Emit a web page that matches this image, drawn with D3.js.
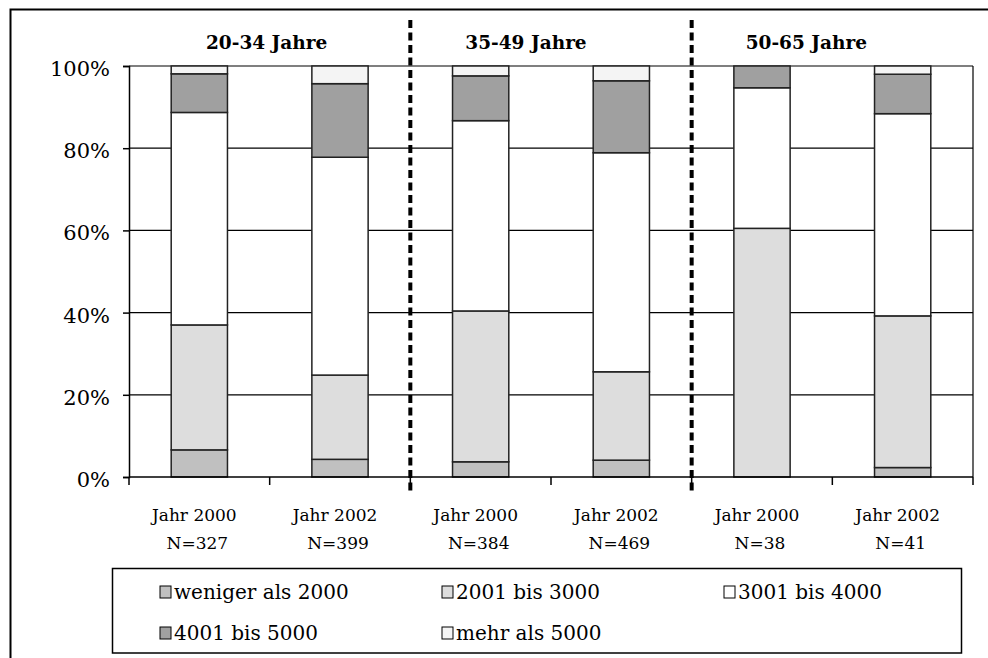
<!DOCTYPE html>
<html>
<head>
<meta charset="utf-8">
<script src="https://cdn.jsdelivr.net/npm/d3@7"></script>
<style>
  html, body { margin: 0; padding: 0; background: #fff; }
  svg { display: block; }
  text { font-family: "DejaVu Serif", "Liberation Serif", serif; fill: #000; }
</style>
</head>
<body>
<svg id="chart" width="988" height="658"></svg>
<script>
// Einkommensverteilung nach Altersgruppe und Erhebungsjahr (Anteile in %)
const categories = ["Jahr 2000", "Jahr 2002", "Jahr 2000", "Jahr 2002", "Jahr 2000", "Jahr 2002"];
const sampleSizes = ["N=327", "N=399", "N=384", "N=469", "N=38", "N=41"];
const ageGroups = ["20-34 Jahre", "35-49 Jahre", "50-65 Jahre"];
const seriesNames = ["weniger als 2000", "2001 bis 3000", "3001 bis 4000", "4001 bis 5000", "mehr als 5000"];

const lessThan2000 = [6.6, 4.3, 3.7, 4.1, 0.0, 2.3];
const from2001to3000 = [30.4, 20.5, 36.7, 21.5, 60.5, 36.9];
const from3001to4000 = [51.7, 53.0, 46.3, 53.3, 34.2, 49.2];
const from4001to5000 = [9.4, 17.9, 10.9, 17.5, 5.3, 9.6];
const moreThan5000 = [1.9, 4.3, 2.4, 3.6, 0.0, 2.0];

const yTicks = [0, 20, 40, 60, 80, 100];

// ---- layout ----
const svg = d3.select("#chart");
const plot = { left: 129, right: 973, top: 66, bottom: 477 };
const fills = ["#c0c0c0", "#dddddd", "#ffffff", "#a0a0a0", "#f4f4f4"];
const titleShift = [-3, -25, -26];

const seriesValues = [lessThan2000, from2001to3000, from3001to4000, from4001to5000, moreThan5000];
const ids = categories.map((c, i) => i);
const rows = ids.map(i => {
  const r = { id: i };
  seriesNames.forEach((s, k) => { r[s] = seriesValues[k][i]; });
  return r;
});
const stacked = d3.stack().keys(seriesNames)(rows);

const x = d3.scaleBand().domain(ids).range([plot.left, plot.right])
  .paddingInner(0.6).paddingOuter(0.3);
const y = d3.scaleLinear().domain([0, 100]).range([plot.bottom, plot.top]);
const step = x.step();
const bound = i => plot.left + i * step;

// outer frame
svg.append("rect")
  .attr("x", 10.5).attr("y", 9.5).attr("width", 1000).attr("height", 700)
  .attr("fill", "none").attr("stroke", "#000").attr("stroke-width", 2);

// horizontal gridlines
svg.append("g").selectAll("line").data(yTicks.filter(t => t > 0)).join("line")
  .attr("x1", plot.left).attr("x2", plot.right)
  .attr("y1", d => y(d)).attr("y2", d => y(d))
  .attr("stroke", "#000").attr("stroke-width", 1.2);

// right border of the plot area
svg.append("line")
  .attr("x1", plot.right).attr("x2", plot.right)
  .attr("y1", plot.top).attr("y2", plot.bottom)
  .attr("stroke", "#000").attr("stroke-width", 1.2);

// stacked bars
const layers = svg.append("g").selectAll("g").data(stacked).join("g")
  .attr("fill", (d, k) => fills[k]);
layers.selectAll("rect").data(d => d.filter(p => p[1] - p[0] > 0)).join("rect")
  .attr("x", p => x(p.data.id))
  .attr("width", x.bandwidth())
  .attr("y", p => y(p[1]))
  .attr("height", p => y(p[0]) - y(p[1]))
  .attr("stroke", "#222").attr("stroke-width", 1.5);

// y axis
const yAxis = svg.append("g").attr("transform", `translate(${plot.left},0)`)
  .call(d3.axisLeft(y).tickValues(yTicks).tickFormat(d => d + "%").tickSize(6).tickPadding(13));
yAxis.select(".domain").attr("stroke", "#000").attr("stroke-width", 1.5);
yAxis.selectAll(".tick line").attr("stroke", "#000").attr("stroke-width", 1.5);
yAxis.selectAll(".tick text")
  .attr("font-family", "DejaVu Serif, serif").attr("font-size", 21).attr("dy", "0.45em");

// x axis line with ticks at category boundaries
svg.append("line")
  .attr("x1", plot.left).attr("x2", plot.right)
  .attr("y1", plot.bottom).attr("y2", plot.bottom)
  .attr("stroke", "#000").attr("stroke-width", 1.5);
svg.append("g").selectAll("line").data(d3.range(categories.length + 1)).join("line")
  .attr("x1", i => bound(i)).attr("x2", i => bound(i))
  .attr("y1", plot.bottom).attr("y2", plot.bottom + 8)
  .attr("stroke", "#000").attr("stroke-width", 1.5);

// category labels
const labels = svg.append("g").attr("font-size", 17).attr("text-anchor", "middle");
labels.selectAll("text.year").data(categories).join("text").attr("class", "year")
  .attr("x", (d, i) => x(i) + x.bandwidth() / 2 - 5)
  .attr("y", 521)
  .text(d => d);
labels.selectAll("text.n").data(sampleSizes).join("text").attr("class", "n")
  .attr("x", (d, i) => x(i) + x.bandwidth() / 2 - 2)
  .attr("y", 549)
  .text(d => d);

// dashed separators between age groups
svg.append("g").selectAll("line").data([2, 4]).join("line")
  .attr("x1", i => bound(i)).attr("x2", i => bound(i))
  .attr("y1", 20).attr("y2", 494)
  .attr("stroke", "#000").attr("stroke-width", 4)
  .attr("stroke-dasharray", "8,4.5");

// age group titles
svg.append("g").selectAll("text").data(ageGroups).join("text")
  .attr("x", (d, g) => bound(g * 2) + step + titleShift[g])
  .attr("y", 49)
  .attr("text-anchor", "middle")
  .attr("font-weight", "bold").attr("font-size", 18.5)
  .text(d => d);

// legend
const legend = svg.append("g");
legend.append("rect")
  .attr("x", 112.5).attr("y", 568.5).attr("width", 849).attr("height", 84.5)
  .attr("fill", "#fff").attr("stroke", "#000").attr("stroke-width", 1.5);
const legendCols = [160, 442, 724];
const legendRows = [586, 627];
const items = legend.selectAll("g.item").data(seriesNames).join("g").attr("class", "item")
  .attr("transform", (d, k) => `translate(${legendCols[k % 3]},${legendRows[Math.floor(k / 3)]})`);
items.append("rect")
  .attr("width", 11).attr("height", 12)
  .attr("fill", (d, k) => fills[k]).attr("stroke", "#000").attr("stroke-width", 1);
items.append("text")
  .attr("x", 14).attr("y", 12.5)
  .attr("font-size", 20)
  .text(d => d);
</script>
</body>
</html>
